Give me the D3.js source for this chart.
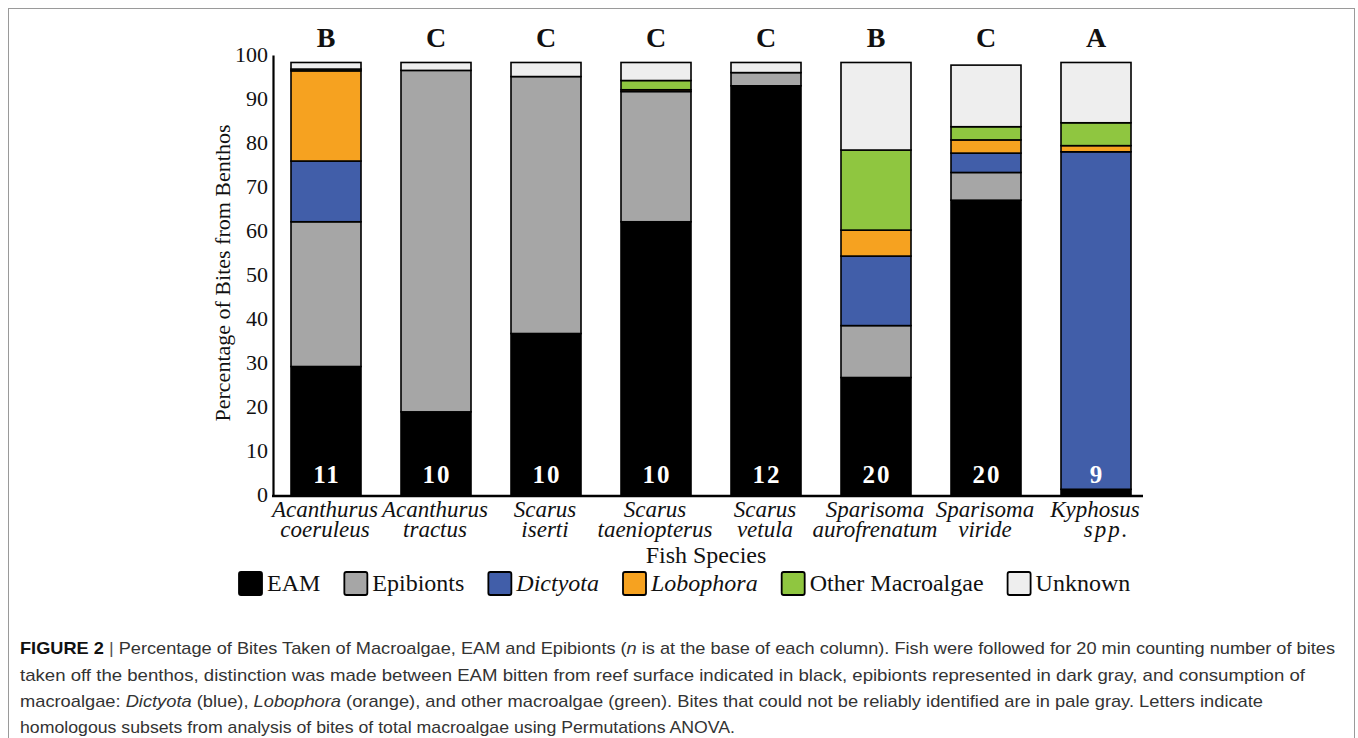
<!DOCTYPE html>
<html>
<head>
<meta charset="utf-8">
<script src="https://cdn.jsdelivr.net/npm/d3@7"></script>
<style>
  html, body { margin: 0; padding: 0; background: #fff; }
  svg { display: block; }
</style>
</head>
<body>
<svg id="chart" width="1358" height="738"></svg>
<script>
// Fish species (two-line italic labels)
const speciesLine1 = ["Acanthurus", "Acanthurus", "Scarus", "Scarus", "Scarus", "Sparisoma", "Sparisoma", "Kyphosus"];
const speciesLine2 = ["coeruleus", "tractus", "iserti", "taeniopterus", "vetula", "aurofrenatum", "viride", "\u00a0\u00a0\u00a0spp."];

// Bite categories, bottom to top of each column
const categories = ["EAM", "Epibionts", "Dictyota", "Lobophora", "Other Macroalgae", "Unknown"];
const categoryColors = ["#000000", "#a6a6a6", "#415ea9", "#f6a220", "#8fc640", "#eeeeee"];
const italicCategories = ["Dictyota", "Lobophora"];

// Percentage of bites per category
const eam             = [29.2, 18.9, 36.7, 62.1, 93.0, 26.7, 67.0,  1.3];
const epibionts       = [32.9, 77.6, 58.4, 29.6,  3.0, 11.8,  6.3,  0.0];
const dictyota        = [13.8,  0.0,  0.0,  0.0,  0.0, 15.8,  4.4, 76.7];
const lobophora       = [20.5,  0.0,  0.0,  0.4,  0.0,  5.9,  3.0,  1.4];
const otherMacroalgae = [ 0.4,  0.0,  0.0,  2.1,  0.0, 18.2,  3.0,  5.2];
const unknown         = [ 1.5,  1.8,  3.2,  4.1,  2.3, 19.9, 14.0, 13.7];

// Sample sizes (n) and homologous-subset letters
const nValues = [11, 10, 10, 10, 12, 20, 20, 9];
const subsetLetters = ["B", "C", "C", "C", "C", "B", "C", "A"];

// Y axis ticks
const yTicks = [0, 10, 20, 30, 40, 50, 60, 70, 80, 90, 100];

const SERIF = "'Liberation Serif', 'Times New Roman', Times, serif";
const SANS = "'Liberation Sans Narrow', 'Arial Narrow', 'Liberation Sans', Arial, sans-serif";

const seriesValues = [eam, epibionts, dictyota, lobophora, otherMacroalgae, unknown];
const rows = speciesLine1.map((s, i) => {
  const r = { idx: i };
  categories.forEach((c, k) => { r[c] = seriesValues[k][i]; });
  return r;
});

const svg = d3.select("#chart");

// outer figure frame
svg.append("rect")
  .attr("x", 8.5).attr("y", 8.5)
  .attr("width", 1346).attr("height", 760)
  .attr("fill", "none").attr("stroke", "#9a9a9a").attr("stroke-width", 1);

const x = d3.scaleBand()
  .domain(d3.range(speciesLine1.length))
  .range([271, 1151])
  .paddingInner(0.3636)
  .paddingOuter(0.1818);

const y = d3.scaleLinear().domain([0, 100]).range([495, 55]);

const color = d3.scaleOrdinal().domain(categories).range(categoryColors);

const stacked = d3.stack().keys(categories)(rows);

// stacked columns
const layer = svg.append("g");
stacked.forEach(series => {
  layer.append("g")
    .attr("fill", color(series.key))
    .selectAll("rect")
    .data(series.filter(d => d[1] - d[0] > 0))
    .join("rect")
      .attr("x", d => x(d.data.idx))
      .attr("y", d => y(d[1]))
      .attr("width", x.bandwidth())
      .attr("height", d => y(d[0]) - y(d[1]))
      .attr("stroke", "#000")
      .attr("stroke-width", 1.6);
});

// y axis
const yAxis = svg.append("g")
  .attr("transform", "translate(273,0)")
  .call(d3.axisLeft(y).tickValues(yTicks).tickSize(0).tickPadding(5).tickFormat(d3.format("d")));
yAxis.attr("font-family", SERIF).attr("font-size", 22);
yAxis.select(".domain").attr("stroke", "#000").attr("stroke-width", 2.2);
yAxis.selectAll("text")
  .attr("font-family", SERIF)
  .attr("font-size", 22)
  .attr("fill", "#111")
  .attr("dy", "0.3em");

// x axis baseline
svg.append("line")
  .attr("x1", 272).attr("x2", 1143)
  .attr("y1", 496).attr("y2", 496)
  .attr("stroke", "#000").attr("stroke-width", 2.6);

// y axis title
svg.append("text")
  .attr("font-family", SERIF)
  .attr("transform", "translate(230,273) rotate(-90)")
  .attr("text-anchor", "middle")
  .attr("font-size", 22)
  .attr("fill", "#111")
  .text("Percentage of Bites from Benthos");

// subset letters above the columns
svg.append("g").selectAll("text")
  .data(subsetLetters)
  .join("text")
    .attr("font-family", SERIF)
    .attr("x", (d, i) => x(i) + x.bandwidth() / 2)
    .attr("y", 47)
    .attr("text-anchor", "middle")
    .attr("font-size", 28)
    .attr("font-weight", "bold")
    .attr("fill", "#111")
    .text(d => d);

// n at the base of each column
svg.append("g").selectAll("text")
  .data(nValues)
  .join("text")
    .attr("font-family", SERIF)
    .attr("x", (d, i) => x(i) + x.bandwidth() / 2 + 1)
    .attr("y", 483)
    .attr("text-anchor", "middle")
    .attr("font-size", 25)
    .attr("font-weight", "bold")
    .attr("letter-spacing", 2)
    .attr("fill", "#fff")
    .text(d => d);

// species labels
const xl = svg.append("g").selectAll("text")
  .data(speciesLine1)
  .join("text")
    .attr("font-family", SERIF)
    .attr("font-style", "italic")
    .attr("font-size", 23)
    .attr("fill", "#111")
    .attr("text-anchor", "middle");
xl.append("tspan")
  .attr("x", (d, i) => x(i) + x.bandwidth() / 2 - 1)
  .attr("y", 517)
  .text(d => d);
xl.append("tspan")
  .attr("x", (d, i) => x(i) + x.bandwidth() / 2 - 1)
  .attr("y", 537)
  .attr("letter-spacing", (d, i) => i === speciesLine1.length - 1 ? 2 : 0)
  .text((d, i) => speciesLine2[i]);

// x axis title
svg.append("text")
  .attr("font-family", SERIF)
  .attr("x", 706).attr("y", 563)
  .attr("text-anchor", "middle")
  .attr("font-size", 24)
  .attr("fill", "#111")
  .text("Fish Species");

// legend
const legend = svg.append("g");
let lx = 239;
categories.forEach((c, k) => {
  legend.append("rect")
    .attr("x", lx).attr("y", 572)
    .attr("width", 23).attr("height", 23)
    .attr("rx", 2)
    .attr("fill", categoryColors[k])
    .attr("stroke", "#000").attr("stroke-width", 1.8);
  const t = legend.append("text")
    .attr("font-family", SERIF)
    .attr("x", lx + 28).attr("y", 591)
    .attr("font-size", 24)
    .attr("font-style", italicCategories.includes(c) ? "italic" : "normal")
    .attr("fill", "#111")
    .text(c);
  lx += 28 + t.node().getComputedTextLength() + 24;
});

// caption
const captionLines = [
  { w: 1315, parts: [["FIGURE 2", "b"], [" | ", "bar"], ["Percentage of Bites Taken of Macroalgae, EAM and Epibionts (", ""], ["n", "i"], [" is at the base of each column). Fish were followed for 20 min counting number of bites", ""]] },
  { w: 1285, parts: [["taken off the benthos, distinction was made between EAM bitten from reef surface indicated in black, epibionts represented in dark gray, and consumption of", ""]] },
  { w: 1243, parts: [["macroalgae: ", ""], ["Dictyota", "i"], [" (blue), ", ""], ["Lobophora", "i"], [" (orange), and other macroalgae (green). Bites that could not be reliably identified are in pale gray. Letters indicate", ""]] },
  { w: 715, parts: [["homologous subsets from analysis of bites of total macroalgae using Permutations ANOVA.", ""]] }
];
const capBaselines = [654, 681, 707, 733];
captionLines.forEach((line, li) => {
  const t = svg.append("text")
    .attr("font-family", SANS)
    .attr("x", 20).attr("y", capBaselines[li])
    .attr("font-size", 17)
    .attr("fill", "#333")
    .style("white-space", "pre")
    .attr("textLength", line.w)
    .attr("lengthAdjust", "spacingAndGlyphs");
  line.parts.forEach(([s, f]) => {
    const sp = t.append("tspan").text(s);
    if (f === "b") sp.attr("font-weight", "bold").attr("fill", "#111");
    if (f === "i") sp.attr("font-style", "italic");
    if (f === "bar") sp.attr("fill", "#555");
  });
});
</script>
</body>
</html>
